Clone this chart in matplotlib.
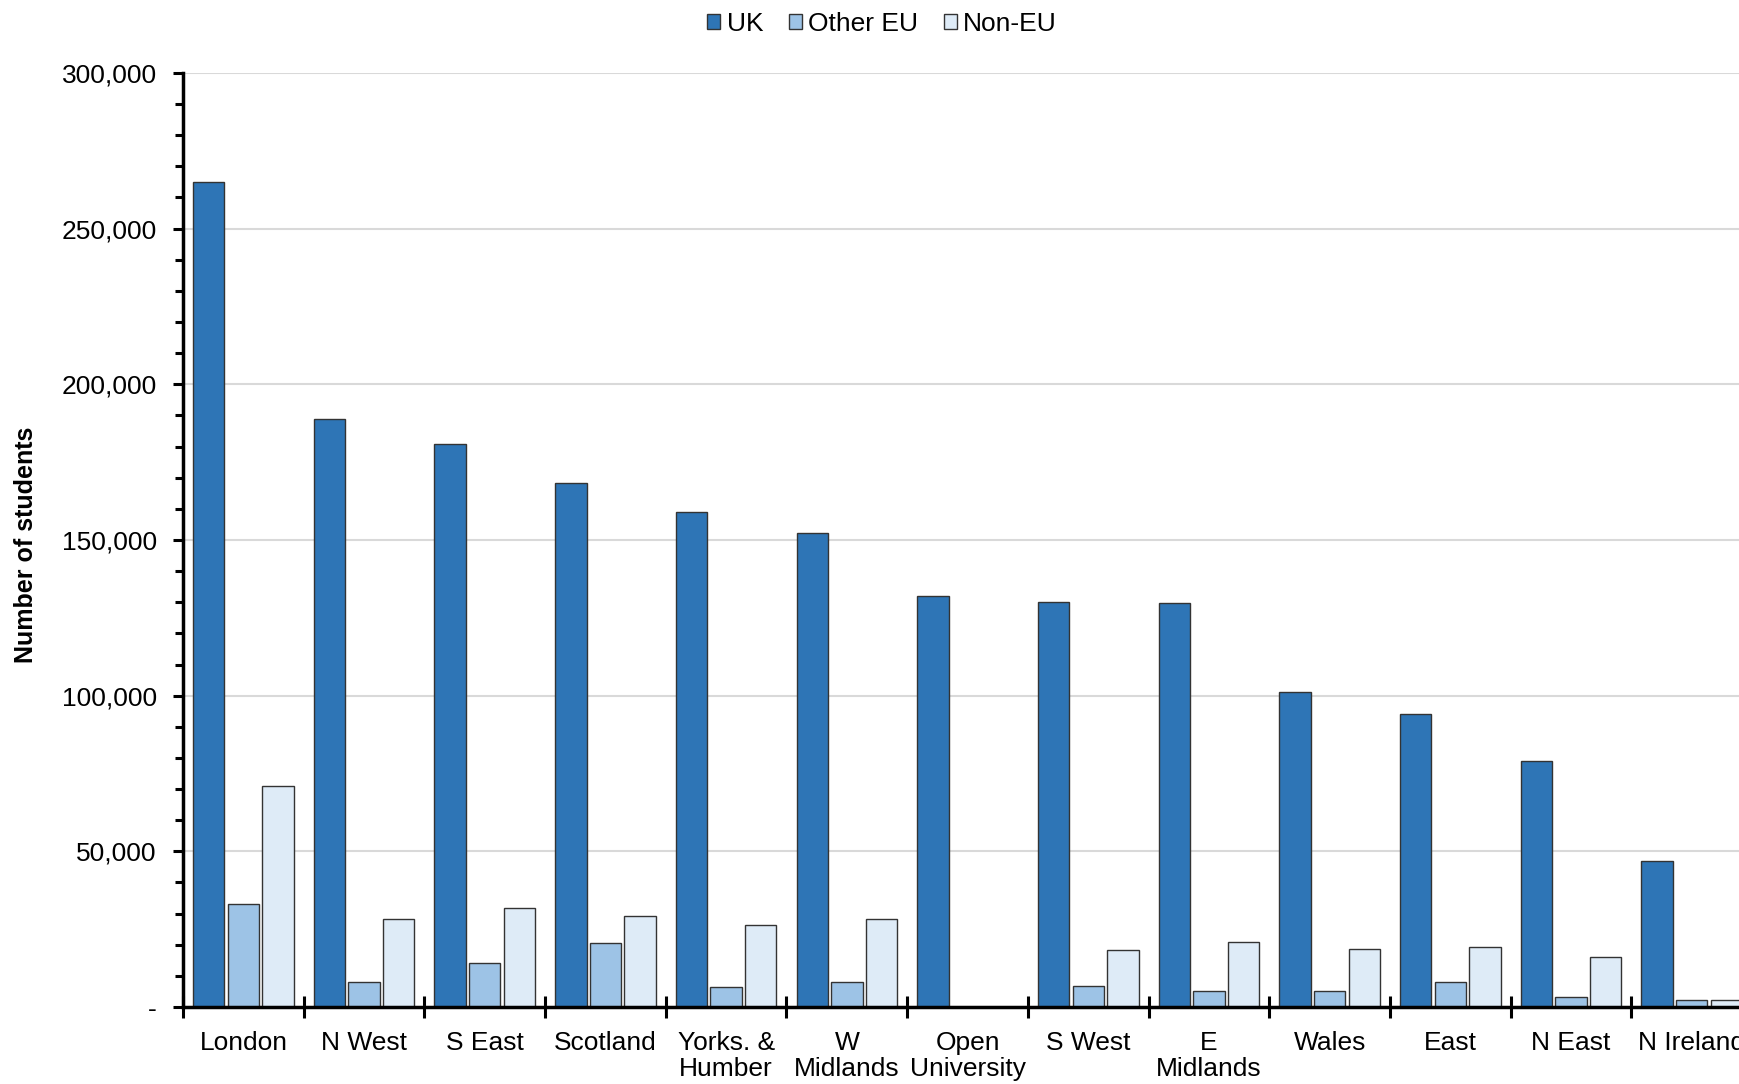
"""
Students by region of HE provider and domicile (UK / Other EU / Non-EU)
"""
import numpy as np
import matplotlib.pyplot as plt
from matplotlib.ticker import MultipleLocator, FuncFormatter

plt.rcParams['font.family'] = ['Liberation Sans', 'DejaVu Sans']

# ======================================================================
# 数据
# ======================================================================
regions = ["London", "N West", "S East", "Scotland", "Yorks. &\nHumber",
           "W\nMidlands", "Open\nUniversity", "S West", "E\nMidlands",
           "Wales", "East", "N East", "N Ireland"]
uk = [265000, 188700, 180800, 168300, 159100, 152300, 132000,
      130200, 129800, 101300, 94000, 79100, 47000]
other_eu = [33200, 7900, 14300, 20700, 6400, 8200, 0,
            6800, 5300, 5100, 8100, 3100, 2400]
non_eu = [71000, 28200, 31800, 29300, 26400, 28200, 0,
          18200, 21000, 18500, 19200, 16200, 2400]

series_names = ["UK", "Other EU", "Non-EU"]
series_colors = ["#2E75B6", "#9DC3E6", "#DEEBF7"]


def thousands(v, pos):
    if v == 0:
        return "-"
    return f"{int(v):,}"


def main():
    fig = plt.figure(figsize=(17.4, 10.84), dpi=100)
    # 图表右侧在原图中被裁掉, 所以坐标轴延伸出画布
    ax = fig.add_axes([0.1052, 0.071, 0.9017, 0.8617])

    x = np.arange(len(regions))
    w = 0.26
    step = 0.287
    for i, (vals, name, col) in enumerate(zip([uk, other_eu, non_eu], series_names, series_colors)):
        ax.bar(x + (i - 1) * step, vals, width=w, color=col, edgecolor="#333333",
               linewidth=1.0, label=name, zorder=3)

    ax.set_xlim(-0.5, len(regions) - 0.5)
    ax.set_ylim(0, 300000)

    # y 轴: 主刻度 50k + 网格, 次刻度 10k
    ax.yaxis.set_major_locator(MultipleLocator(50000))
    ax.yaxis.set_minor_locator(MultipleLocator(10000))
    ax.yaxis.set_major_formatter(FuncFormatter(thousands))
    ax.grid(axis="y", color="#D9D9D9", linewidth=1.5, zorder=0)
    ax.tick_params(axis="y", which="major", length=7, width=2.2, labelsize=19, pad=12)
    ax.tick_params(axis="y", which="minor", length=6, width=2.2)

    # x 轴: 刻度在类别边界, 标签居中
    ax.set_xticks(np.arange(len(regions) + 1) - 0.5)
    ax.set_xticklabels([])
    ax.set_xticks(x, minor=True)
    ax.set_xticklabels(regions, minor=True, fontsize=19, linespacing=1.15)
    ax.tick_params(axis="x", which="minor", length=0, pad=17)
    ax.tick_params(axis="x", which="major", direction="inout", length=16, width=2.2)

    for s in ["top", "right"]:
        ax.spines[s].set_visible(False)
    for s in ["left", "bottom"]:
        ax.spines[s].set_linewidth(2.5)
        ax.spines[s].set_zorder(4)

    fig.text(0.008, 0.497, "Number of students", rotation=90, fontsize=18,
             fontweight="bold", ha="left", va="center")

    fig.legend(loc="center", bbox_to_anchor=(0.507, 0.978), ncol=3, frameon=False,
               fontsize=19, handlelength=0.5, handleheight=0.5, handletextpad=0.25,
               columnspacing=0.95, borderaxespad=0)

    fig.savefig("out.png", dpi=100)
    plt.close(fig)


if __name__ == "__main__":
    main()
